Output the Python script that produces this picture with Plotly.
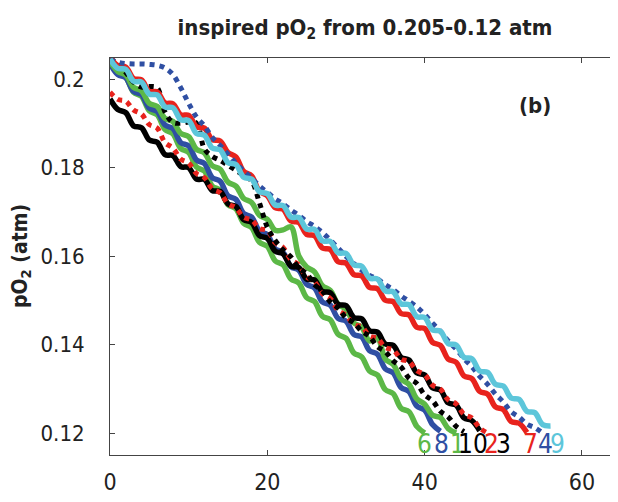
import plotly.graph_objects as go

GREEN_6 = [204.0, 201.3, 200.4, 197.0, 196.1, 192.8, 191.9, 188.6, 187.6, 184.3, 183.4, 180.1, 179.2, 175.8,
           174.9, 171.6, 170.7, 167.4, 166.4, 163.1, 162.2, 158.9, 158.0, 154.8, 153.9, 150.6, 149.7, 146.4,
           145.6, 142.3, 141.4, 138.1, 137.2, 134.0, 133.1, 129.8, 128.9, 125.6, 124.8, 121.5, 120.0]
BLUE_8 = [203.5, 201.0, 200.3, 197.2, 196.5, 193.4, 192.7, 189.6, 188.8, 185.6, 184.9, 181.7, 180.9, 177.7,
          176.9, 173.6, 172.8, 169.6, 168.8, 165.6, 164.8, 161.6, 160.8, 157.6, 156.8, 153.6, 152.8, 149.6,
          148.9, 145.9, 145.3, 142.3, 141.7, 138.6, 137.8, 134.5, 133.6, 130.3, 129.4, 126.1, 125.2, 121.9, 120.4]
GREEN_1 = [204.0, 201.7, 200.9, 198.1, 197.3, 194.5, 193.8, 191.1, 190.4, 187.7, 187.0, 184.1, 183.3, 180.4,
           179.6, 176.7, 175.8, 173.0, 172.1, 169.2, 168.3, 165.8, 165.9, 166.6, 160.0, 157.5, 156.4, 153.3,
           152.2, 149.1, 148.0, 144.9, 143.9, 140.8, 141.5, 136.7, 135.5, 132.2, 131.0, 127.7, 126.5, 124.0,
           123.5, 121.0, 120.0]
BLACK_SOLID = [195.5, 193.1, 192.4, 189.4, 189.0, 186.2, 185.7, 182.9, 182.7, 180.2, 180.0, 177.4, 177.3, 174.8,
               174.6, 171.8, 171.2, 168.2, 167.6, 164.6, 164.0, 161.1, 160.5, 157.7, 157.4, 154.8, 154.6, 152.0,
               151.7, 149.1, 148.8, 146.1, 145.8, 143.1, 142.8, 140.1, 139.8, 137.1, 136.5, 133.6, 133.1, 130.2,
               129.7, 126.8, 126.3, 123.4, 122.8, 120.5]
RED_DOTTED = [197.0, 195.4, 195.0, 193.0, 192.1, 189.7, 188.9, 185.6, 184.4, 181.9, 181.0, 178.6, 177.7, 175.2,
              174.3, 171.8, 170.9, 168.7, 168.2, 166.2, 165.8, 163.0, 161.9, 159.2, 158.0, 155.3, 154.2, 151.5,
              150.4, 147.7, 146.6, 144.5, 144.0, 141.9, 141.4, 139.3, 138.8, 136.7, 136.2, 134.1, 133.2, 130.8,
              129.9, 127.5, 126.6, 124.2, 123.4, 121.1, 120.0]
BLACK_DOTTED = [204.5, 203.5, 201.5, 199.3, 198.2, 198.3, 198.0, 192.5, 190.2, 190.0, 190.3, 190.0, 184.2, 182.5,
                181.6, 180.5, 179.4, 178.2, 177.0, 172.0, 166.5, 163.5, 161.4, 159.8, 157.3, 156.0, 153.5, 152.1,
                149.6, 148.2, 146.0, 144.9, 143.0, 141.8, 139.5, 138.4, 136.3, 134.9, 132.4, 131.2, 128.6, 127.3,
                124.9, 123.6, 121.5, 120.3]
RED_SOLID = [205.0, 203.0, 202.7, 200.1, 199.8, 197.2, 197.1, 194.6, 194.4, 191.9, 191.8, 189.2, 188.9, 186.3,
             186.0, 183.4, 182.4, 179.1, 178.1, 174.6, 173.6, 170.9, 170.6, 167.9, 167.6, 164.9, 164.6, 161.8,
             161.5, 158.7, 158.4, 155.8, 155.5, 152.9, 152.6, 150.0, 149.7, 147.0, 146.7, 143.9, 143.6, 140.5,
             139.8, 136.7, 136.0, 132.9, 132.3, 129.4, 128.8, 125.9, 125.3, 122.6, 122.2, 120.1]
BLUE_DOTTED = [204.3, 203.8, 203.5, 203.4, 203.4, 203.3, 203.1, 202.5, 201.0, 198.0, 194.5, 191.4, 189.4, 186.8,
               185.0, 183.0, 181.0, 179.2, 177.6, 175.8, 174.4, 172.9, 171.8, 170.4, 169.2, 167.8, 166.7, 165.3,
               163.6, 161.8, 159.9, 158.3, 156.8, 155.6, 154.8, 153.5, 152.4, 151.0, 149.8, 148.5, 146.8, 144.8,
               143.0, 140.8, 139.0, 136.8, 135.0, 132.8, 131.0, 128.8, 127.0, 124.8, 123.6, 122.0, 121.2, 120.0]
CYAN_9 = [204.5, 202.4, 202.2, 199.5, 199.3, 196.6, 196.4, 193.7, 193.5, 190.8, 190.6, 187.7, 187.3, 184.4,
          184.0, 181.1, 180.7, 177.8, 177.4, 174.5, 174.1, 171.5, 171.4, 168.8, 168.7, 166.1, 166.0, 163.4,
          163.3, 160.7, 160.6, 158.0, 157.7, 155.0, 154.8, 152.1, 151.9, 149.2, 149.0, 146.3, 146.1, 143.3,
          143.0, 140.2, 139.9, 137.1, 136.8, 134.0, 133.7, 131.0, 130.6, 127.9, 127.6, 124.9, 124.6, 121.9, 121.6]

GREEN = "#5cb847"
BLUE = "#2f4fa3"
RED = "#e8231d"
CYAN = "#5dc6da"
BLACK = "#000000"

# (values, colour, dash) in drawing order
SERIES = [
    (GREEN_6, GREEN, "solid"),
    (BLUE_8, BLUE, "solid"),
    (GREEN_1, GREEN, "solid"),
    (BLACK_SOLID, BLACK, "solid"),
    (RED_DOTTED, RED, "dot"),
    (BLACK_DOTTED, BLACK, "dot"),
    (RED_SOLID, RED, "solid"),
    (BLUE_DOTTED, BLUE, "dot"),
    (CYAN_9, CYAN, "solid"),
]

LABEL_TEXT = ["6", "8", "1", "10", "2", "3", "7", "4", "9"]
LABEL_COLOR = [GREEN, BLUE, GREEN, BLACK, RED, BLACK, RED, BLUE, CYAN]
LABEL_X = [40.0, 42.2, 44.2, 46.2, 48.5, 50.0, 53.4, 55.3, 56.9]

FONT = "Liberation Sans Narrow, DejaVu Sans Condensed, Arial Narrow, sans-serif"

fig = go.Figure()
for vals, color, dash in SERIES:
    fig.add_trace(go.Scatter(
        x=list(range(len(vals))),
        y=[v / 1000 for v in vals],
        mode="lines",
        line=dict(color=color, width=5.5 if dash == "solid" else 5, dash=dash, shape="spline"),
        showlegend=False,
    ))

for txt, col, lx in zip(LABEL_TEXT, LABEL_COLOR, LABEL_X):
    fig.add_annotation(x=lx, y=0.1176, text=txt, showarrow=False,
                       font=dict(family=FONT, size=26, color=col), xanchor="center", yanchor="middle")

fig.add_annotation(x=54, y=0.1941, text="<b>(b)</b>", showarrow=False,
                   font=dict(family=FONT, size=22, color="#222"))
fig.add_annotation(xref="paper", x=-0.205, y=0.16, text="<b>pO<sub>2</sub> (atm)</b>", textangle=-90,
                   showarrow=False, font=dict(family=FONT, size=21, color="#222"))

# page body has an 8px margin, so the figure origin sits at (8, 8)
fig.update_layout(
    width=618, height=502,
    margin=dict(l=102, r=9, t=50, b=55),
    paper_bgcolor="white", plot_bgcolor="white",
    title=dict(text="<b>inspired pO<sub>2</sub> from 0.205-0.12 atm</b>", x=0.503, xref="paper",
               y=0.962, yanchor="middle", font=dict(family=FONT, size=22, color="#222")),
    font=dict(family=FONT, color="#222"),
)
fig.update_xaxes(range=[0, 64.45], tickvals=[0, 20, 40, 60], ticks="inside", ticklen=5,
                 showline=True, linecolor="#444", linewidth=1, mirror="ticks", showgrid=False,
                 zeroline=False, tickfont=dict(size=23), ticklabelstandoff=6, automargin=False)
fig.update_yaxes(range=[0.11503, 0.20475], tickvals=[0.12, 0.14, 0.16, 0.18, 0.2],
                 ticktext=["0.12", "0.14", "0.16", "0.18", "0.2"], ticks="inside", ticklen=5,
                 showline=True, linecolor="#444", linewidth=1, mirror="ticks", showgrid=False,
                 zeroline=False, tickfont=dict(size=22), ticklabelstandoff=20, automargin=False)

fig.write_html("out.html")
